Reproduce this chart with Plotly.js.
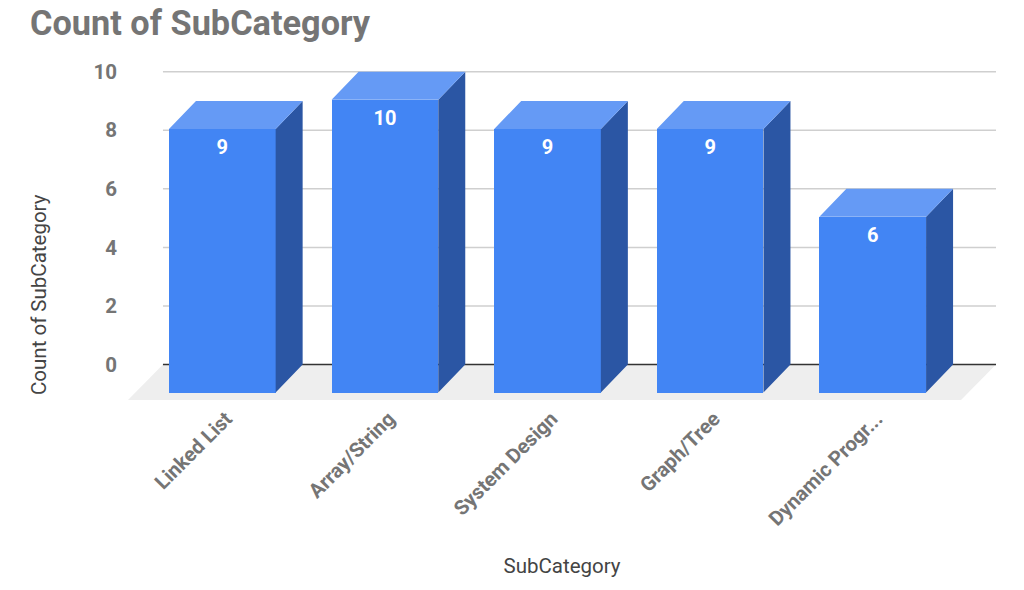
<!DOCTYPE html>
<html>
<head>
<meta charset="utf-8">
<script src="https://cdn.plot.ly/plotly-3.0.1.min.js"></script>
<style>html,body{margin:0;padding:0;background:#fff}#chart{width:1024px;height:590px}</style>
</head>
<body>
<div id="chart"></div>
<script>
const categories = ["Linked List", "Array/String", "System Design", "Graph/Tree", "Dynamic Progr..."];
const counts = [9, 10, 9, 9, 6];
const yTicks = [0, 2, 4, 6, 8, 10];

const positions = categories.map((_, i) => i);
const barWidth = 0.656, depthX = 0.166, depthY = 0.956, labelDrop = 0.68;
const xRange = [-0.58, 4.758], yRange = [-1.212, 10.4];
const gridLeft = -0.365;

const sideX = [], sideY = [], topX = [], topY = [];
counts.forEach((v, i) => {
  const l = i - barWidth / 2, r = i + barWidth / 2, f = v - depthY;
  sideX.push(r, r + depthX, r + depthX, r, r, null);
  sideY.push(-depthY, 0, v, f, -depthY, null);
  topX.push(l, l + depthX, r + depthX, r, l, null);
  topY.push(f, v, v, f, f, null);
});

const poly = (x, y, color) => ({type: "scatter", mode: "lines", x, y, fill: "toself", fillcolor: color,
  line: {width: 0}, hoverinfo: "skip", showlegend: false});

const data = [
  {type: "bar", x: positions, y: counts, base: counts.map(() => -depthY), width: barWidth,
   marker: {color: "#4285F4", line: {width: 0}}, hoverinfo: "x+y", showlegend: false},
  poly(sideX, sideY, "#2B56A4"),
  poly(topX, topY, "#659AF5"),
  {type: "scatter", mode: "text", x: positions, y: counts.map(v => v - depthY - labelDrop),
   text: counts.map(String), textposition: "middle center", hoverinfo: "skip", showlegend: false,
   textfont: {family: "Roboto", size: 20, color: "#FFFFFF", weight: 700}}
];

const floorRight = xRange[1] - (gridLeft - xRange[0]);
const floor = {type: "path", xref: "x", yref: "y", layer: "below", line: {width: 0}, fillcolor: "#EEEEEE",
  path: `M${xRange[0]},${yRange[0]} L${gridLeft},0 L${xRange[1]},0 L${floorRight},${yRange[0]} Z`};
const shapes = [floor].concat(yTicks.map(v => ({type: "line", xref: "x", yref: "y", layer: "below",
  x0: gridLeft, x1: xRange[1], y0: v, y1: v,
  line: {color: v === 0 ? "#333333" : "#CFCFCF", width: 1.5}})));

const layout = {
  width: 1024, height: 590, paper_bgcolor: "#fff", plot_bgcolor: "#fff",
  margin: {l: 128, r: 28, t: 60, b: 190, pad: 0},
  font: {family: "Roboto"},
  title: {text: "Count of SubCategory", x: 30 / 1024, xanchor: "left", y: 1 - 23 / 590, yanchor: "middle",
          font: {family: "Roboto", size: 34.3, color: "#757575", weight: 700}},
  bargap: 0, showlegend: false, shapes,
  xaxis: {range: xRange, tickmode: "array", tickvals: positions, ticktext: categories, tickangle: -45,
          showgrid: false, zeroline: false, showline: false, ticks: "", ticklabelstandoff: 2, ticklabelshift: 4,
          tickfont: {family: "Roboto", size: 20.3, color: "#757575", weight: 700},
          title: {text: "SubCategory", standoff: 29, font: {family: "Roboto", size: 20.5, color: "#444444"}}},
  yaxis: {range: yRange, tickmode: "array", tickvals: yTicks, ticktext: yTicks.map(String),
          showgrid: false, zeroline: false, showline: false, ticks: "", ticklabelstandoff: 10,
          tickfont: {family: "Roboto", size: 20.5, color: "#757575", weight: 700}},
  annotations: [{text: "Count of SubCategory", xref: "paper", yref: "paper", x: (39 - 128) / 868, y: (400 - 295) / 340,
                 xanchor: "center", yanchor: "middle", textangle: -90, showarrow: false,
                 font: {family: "Roboto", size: 20.5, color: "#444444"}}]
};
Plotly.newPlot("chart", data, layout, {displayModeBar: false, staticPlot: true});
</script>
</body>
</html>
